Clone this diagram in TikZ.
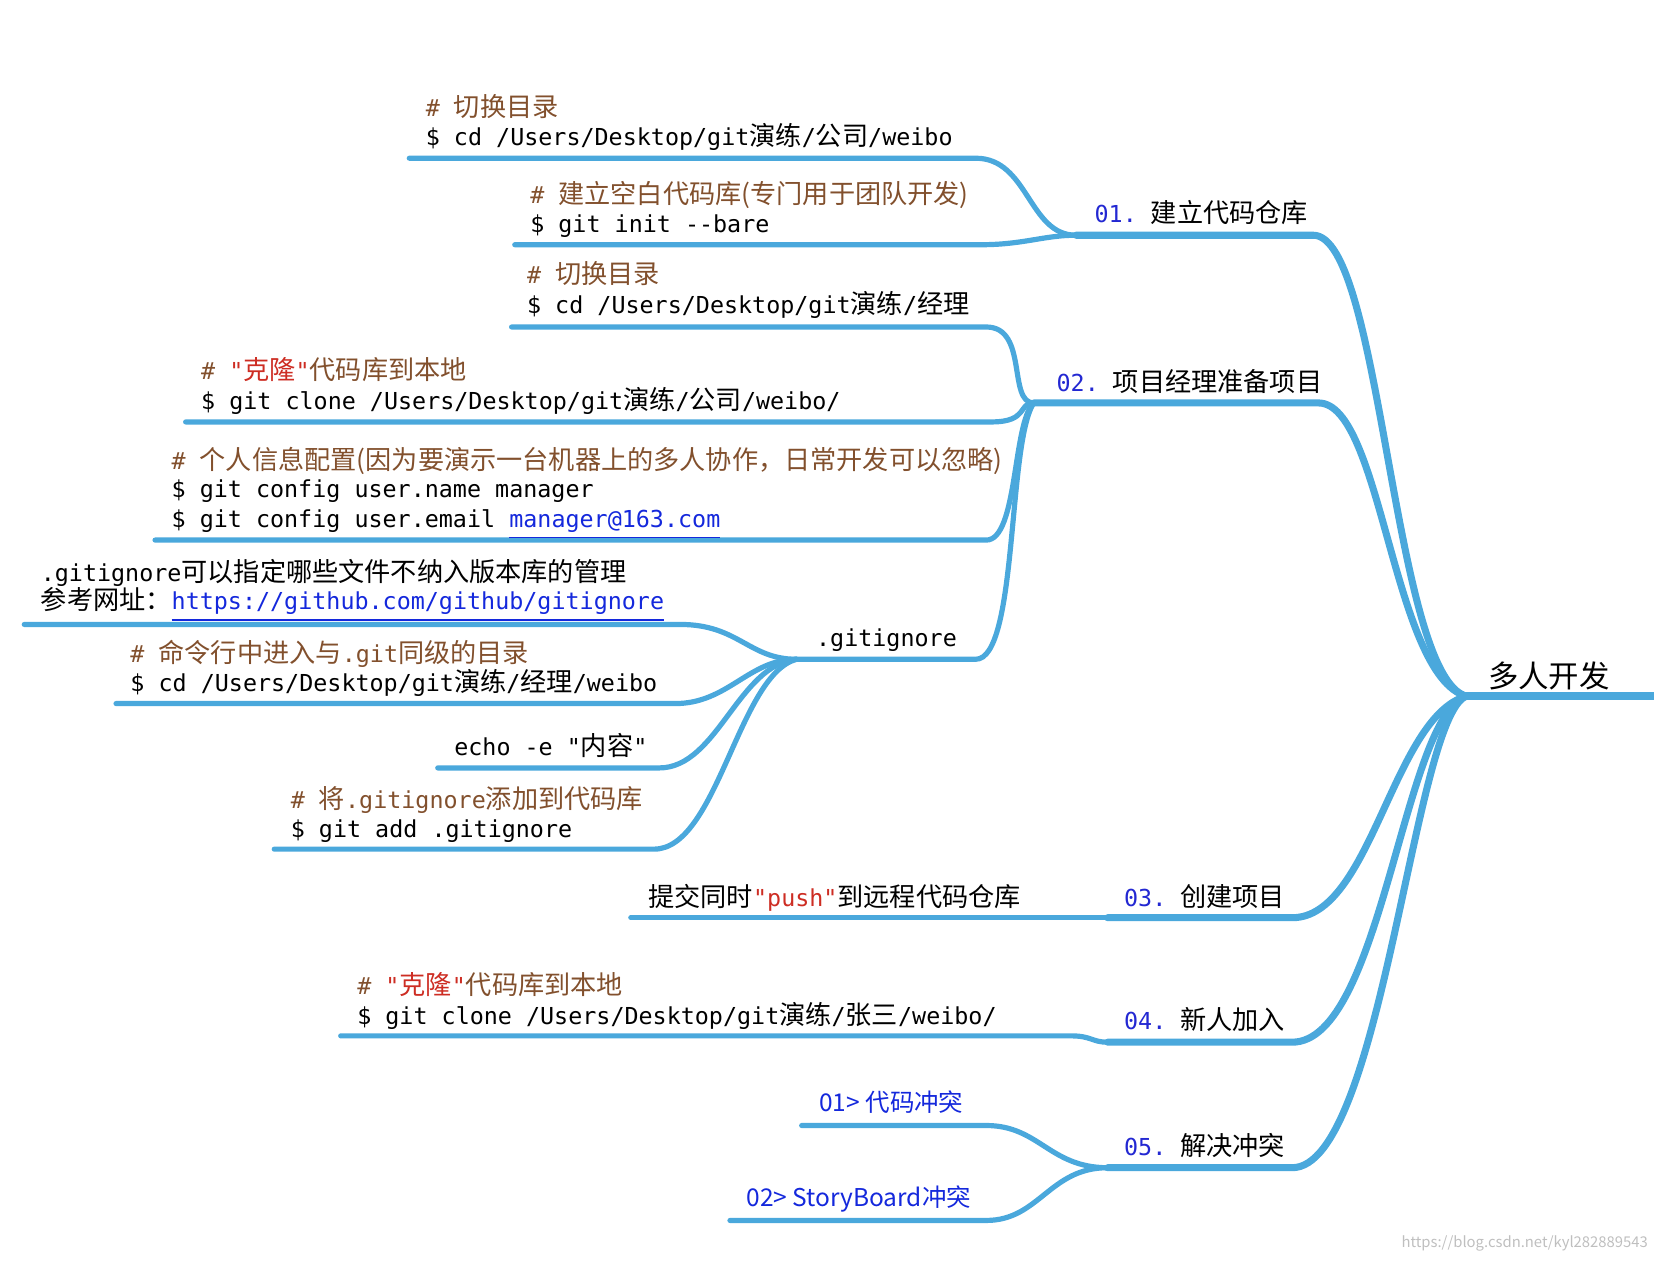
\documentclass[tikz,border=0pt]{standalone}
\usepackage{fontspec}
\setmainfont{Noto Sans CJK SC}
\setmonofont{DejaVu Sans Mono}
\newfontfamily\cjk[Scale=1.12]{Noto Sans CJK SC}
\newcommand\cj[1]{{\cjk #1}}
\definecolor{br}{RGB}{74,168,220}
\definecolor{cm}{RGB}{130,80,45}
\definecolor{rd}{RGB}{205,45,35}
\definecolor{nb}{RGB}{35,40,210}
\definecolor{lk}{RGB}{20,40,220}
\begin{document}
\begin{tikzpicture}[x=0.01cm,y=-0.01cm,
  br1/.style={draw=br,line width=1.9pt,line cap=round},
  br2/.style={draw=br,line width=1.4pt,line cap=round},
  tx/.style={anchor=base west,inner sep=0,font=\fontsize{6.3}{7.5}\selectfont\ttfamily},
  cmt/.style={tx,text=cm},
  lab/.style={tx}]
\useasboundingbox (0,0) rectangle (1568,1194.6);
\coordinate (R) at (1390,660);
% root
\draw[br1,line width=2.2pt] (R) -- (1568,660);
\node[lab,font=\fontsize{8.2}{9}\selectfont] (root) at (1410,652) {多人开发};
% main branches
\coordinate (b1) at (1020,223);
\coordinate (b2) at (980,382);
\coordinate (b3) at (1050,870);
\coordinate (b4) at (1050,988);
\coordinate (b5) at (1050,1107);
\draw[br1] (R) .. controls (1320,640) and (1310,223) .. (1245,223) -- (b1);
\draw[br1] (R) .. controls (1320,640) and (1310,382) .. (1250,382) -- (b2);
\draw[br1] (R) .. controls (1320,680) and (1300,870) .. (1225,870) -- (b3);
\draw[br1] (R) .. controls (1330,680) and (1310,988) .. (1225,988) -- (b4);
\draw[br1] (R) .. controls (1340,680) and (1310,1107) .. (1225,1107) -- (b5);
% labels
\node[lab] (l1) at (1037,211) {\textcolor{nb}{01.} \cj{建立代码仓库}};
\node[lab] (l2) at (1001,371) {\textcolor{nb}{02.} \cj{项目经理准备项目}};
\node[lab] (l3) at (1065,859) {\textcolor{nb}{03.} \cj{创建项目}};
\node[lab] (l4) at (1065,976) {\textcolor{nb}{04.} \cj{新人加入}};
\node[lab] (l5) at (1065,1095) {\textcolor{nb}{05.} \cj{解决冲突}};
% 01 children
\draw[br2] (b1) .. controls (975,223) and (975,150) .. (925,150) -- (388,150);
\draw[br2] (b1) .. controls (990,223) and (970,232) .. (930,232) -- (488,232);
\node[cmt] (c1a) at (403,110) {\# \cj{切换目录}};
\node[tx] (c1b) at (403,138) {\$ cd /Users/Desktop/git\cj{演练}/\cj{公司}/weibo};
\node[cmt] (c2a) at (502,193) {\# \cj{建立空白代码库(专门用于团队开发)}};
\node[tx] (c2b) at (502,220) {\$ git init --bare};
% 02 children
\draw[br2] (b2) .. controls (955,382) and (975,310) .. (935,310) -- (485,310);
\draw[br2] (b2) .. controls (965,382) and (975,400) .. (940,400) -- (176,400);
\draw[br2] (b2) .. controls (960,400) and (965,512) .. (935,512) -- (147,512);
\coordinate (g) at (755,625);
\draw[br2] (b2) .. controls (955,420) and (965,625) .. (925,625) -- (g);
\node[cmt] (d1a) at (499,269) {\# \cj{切换目录}};
\node[tx] (d1b) at (499,297) {\$ cd /Users/Desktop/git\cj{演练}/\cj{经理}};
\node[cmt] (d2a) at (190,360) {\# \textcolor{rd}{"\cj{克隆}"}\cj{代码库到本地}};
\node[tx] (d2b) at (190,388) {\$ git clone /Users/Desktop/git\cj{演练}/\cj{公司}/weibo/};
\node[cmt] (d3a) at (162,445) {\# \cj{个人信息配置(因为要演示一台机器上的多人协作，日常开发可以忽略)}};
\node[tx] (d3b) at (162,472) {\$ git config user.name manager};
\node[tx] (d3c) at (162,500) {\$ git config user.email \textcolor{lk}{\underline{manager@163.com}}};
\node[tx] (gl) at (773,613) {.gitignore};
% gitignore children
\draw[br2] (g) .. controls (710,625) and (700,592) .. (645,592) -- (23,592);
\draw[br2] (g) .. controls (710,625) and (690,667) .. (640,667) -- (110,667);
\draw[br2] (g) .. controls (700,630) and (680,728) .. (625,728) -- (415,728);
\draw[br2] (g) .. controls (700,640) and (680,805) .. (620,805) -- (260,805);
\node[tx] (e1a) at (38,551) {.gitignore\cj{可以指定哪些文件不纳入版本库的管理}};
\node[tx] (e1b) at (38,578) {\cj{参考网址：}\textcolor{lk}{\underline{https://github.com/github/gitignore}}};
\node[cmt] (e2a) at (123,628) {\# \cj{命令行中进入与}.git\cj{同级的目录}};
\node[tx] (e2b) at (123,656) {\$ cd /Users/Desktop/git\cj{演练}/\cj{经理}/weibo};
\node[tx] (e3) at (430,716) {echo -e "\cj{内容}"};
\node[cmt] (e4a) at (275,766) {\# \cj{将}.gitignore\cj{添加到代码库}};
\node[tx] (e4b) at (275,794) {\$ git add .gitignore};
% 03
\draw[br2] (b3) -- (598,870);
\node[tx] (f1) at (614,859) {\cj{提交同时}\textcolor{rd}{"push"}\cj{到远程代码仓库}};
% 04
\draw[br2] (b4) .. controls (1035,988) and (1035,982) .. (1015,982) -- (323,982);
\node[cmt] (h1a) at (338,943) {\# \textcolor{rd}{"\cj{克隆}"}\cj{代码库到本地}};
\node[tx] (h1b) at (338,971) {\$ git clone /Users/Desktop/git\cj{演练}/\cj{张三}/weibo/};
% 05
\draw[br2] (b5) .. controls (995,1107) and (985,1067) .. (935,1067) -- (760,1067);
\draw[br2] (b5) .. controls (995,1107) and (985,1157) .. (935,1157) -- (692,1157);
\node[tx,font=\fontsize{6.6}{8}\selectfont\rmfamily,text=lk] (k1) at (776,1054) {01> 代码冲突};
\node[tx,font=\fontsize{6.6}{8}\selectfont\rmfamily,text=lk] (k2) at (707,1144) {02> StoryBoard冲突};
\node[tx,font=\fontsize{4}{5}\selectfont\rmfamily,text=gray!50] (wm) at (1328,1183) {https://blog.csdn.net/kyl282889543};
\end{tikzpicture}
\end{document}
